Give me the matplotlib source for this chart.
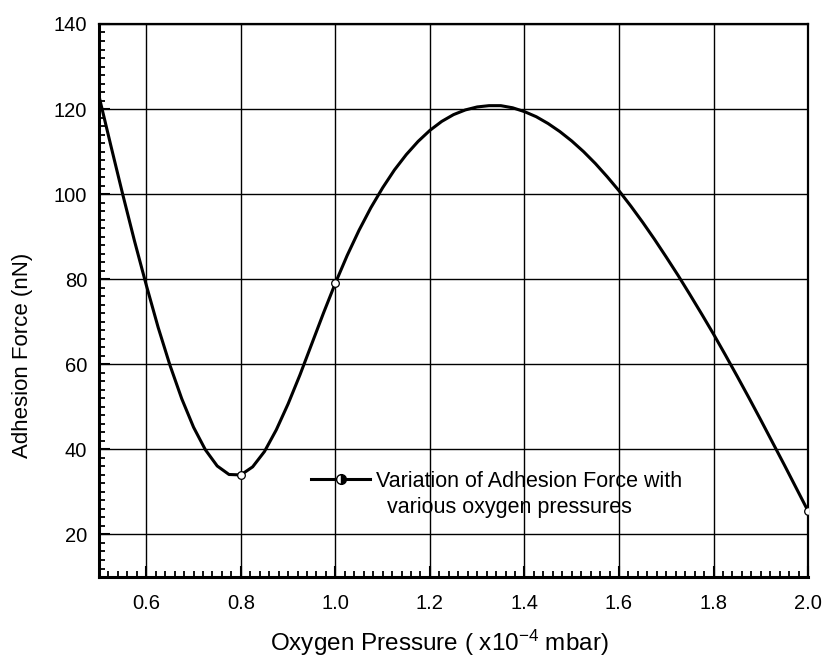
import matplotlib
matplotlib.use("Agg")
import matplotlib.pyplot as plt
from matplotlib.ticker import MultipleLocator, FormatStrFormatter

plt.rcParams['font.family'] = ['Liberation Sans', 'DejaVu Sans']
plt.rcParams['mathtext.fontset'] = 'custom'
plt.rcParams['mathtext.rm'] = 'Liberation Sans'
plt.rcParams['mathtext.it'] = 'Liberation Sans:italic'

# curve, every 0.025 x10^-4 mbar
pressure = [0.500, 0.525, 0.550, 0.575, 0.600, 0.625, 0.650, 0.675, 0.700, 0.725,
            0.750, 0.775, 0.800, 0.825, 0.850, 0.875, 0.900, 0.925, 0.950, 0.975,
            1.000, 1.025, 1.050, 1.075, 1.100, 1.125, 1.150, 1.175, 1.200, 1.225,
            1.250, 1.275, 1.300, 1.325, 1.350, 1.375, 1.400, 1.425, 1.450, 1.475,
            1.500, 1.525, 1.550, 1.575, 1.600, 1.625, 1.650, 1.675, 1.700, 1.725,
            1.750, 1.775, 1.800, 1.825, 1.850, 1.875, 1.900, 1.925, 1.950, 1.975,
            2.000]
force = [123.0, 111.4, 100.0, 89.0, 78.6, 68.7, 59.8, 51.9, 45.2, 39.9,
         36.1, 34.1, 34.0, 35.9, 39.5, 44.6, 50.7, 57.5, 64.8, 72.1,
         79.1, 85.6, 91.5, 96.8, 101.5, 105.7, 109.3, 112.4, 115.0, 117.1,
         118.7, 119.8, 120.5, 120.8, 120.8, 120.3, 119.4, 118.2, 116.6, 114.7,
         112.5, 110.0, 107.2, 104.1, 100.8, 97.2, 93.4, 89.4, 85.2, 80.9,
         76.4, 71.8, 67.1, 62.2, 57.2, 52.1, 46.9, 41.6, 36.3, 30.9,
         25.5]

# measured points that show a marker
meas_p = [0.8, 1.0, 2.0]
meas_f = [34.0, 79.1, 25.5]

label_1 = "Variation of Adhesion Force with"
label_2 = "various oxygen pressures"

fig = plt.figure(figsize=(8.26, 6.59), dpi=100)
ax = fig.add_axes([0.1199, 0.1244, 0.8584, 0.8392])

ax.plot(pressure, force, color='black', lw=2.2, zorder=3)
ax.plot(meas_p, meas_f, ls='none', marker='o', ms=5.5, mew=0.9,
        mec='black', mfc='white', zorder=4)
# legend proxy: line + half filled circle
ax.plot([], [], color='black', lw=2.2, marker='o', ms=7, mew=1.0,
        mec='black', fillstyle='right', mfc='black', mfcalt='white',
        label=label_1)

ax.set_xlim(0.5, 2.0)
ax.set_ylim(10, 140)
ax.xaxis.set_minor_locator(MultipleLocator(0.02))
ax.yaxis.set_minor_locator(MultipleLocator(2))
ax.xaxis.set_major_formatter(FormatStrFormatter('%.1f'))
ax.set_xticks([0.6, 0.8, 1.0, 1.2, 1.4, 1.6, 1.8, 2.0])
ax.set_yticks([20, 40, 60, 80, 100, 120, 140])

ax.grid(True, which='major', color='black', lw=1.0)
ax.tick_params(which='both', direction='in', top=False, right=False,
               labelsize=14.5, color='black')
ax.tick_params(which='major', length=8, width=1.5)
ax.tick_params(which='minor', length=4, width=1.3)
ax.tick_params(axis='x', pad=12)
ax.tick_params(axis='y', pad=8.5)

for side in ['left', 'bottom']:
    ax.spines[side].set_linewidth(2.2)
for side in ['top', 'right']:
    ax.spines[side].set_linewidth(1.6)

ax.set_xlabel(r"Oxygen Pressure ( x10$^{-4}$ mbar)", fontsize=17.5)
ax.xaxis.set_label_coords(0.48, -0.0915)
ax.set_ylabel("Adhesion Force (nN)", fontsize=16)
ax.yaxis.set_label_coords(-0.093, 0.40)

ax.legend(loc='upper left', bbox_to_anchor=(0.299, 0.192), frameon=False,
          fontsize=15.5, handlelength=2.74, handletextpad=0.3,
          borderpad=0, borderaxespad=0)
# second line of the legend text, indented under the first
ax.text(0.406, 0.1266, label_2, transform=ax.transAxes, fontsize=15.5,
        ha='left', va='center')

fig.savefig("out.png", dpi=100)
